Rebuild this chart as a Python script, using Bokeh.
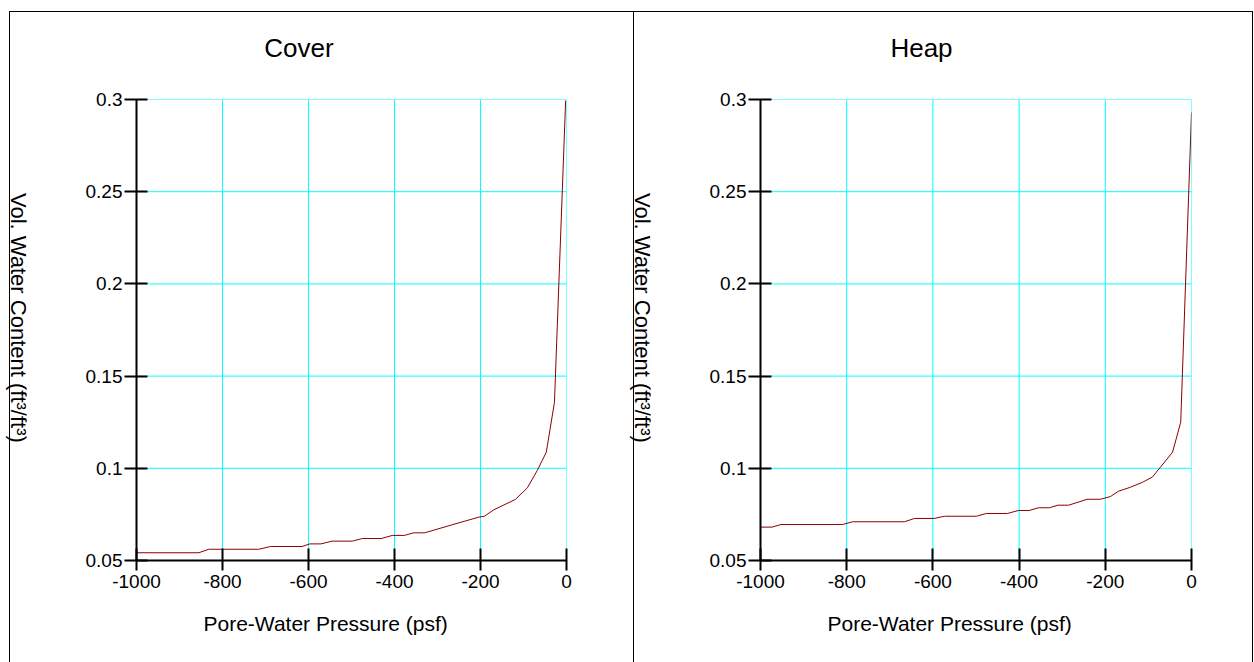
from bokeh.plotting import figure
from bokeh.models import Range1d, FixedTicker, Title, Spacer, Div
from bokeh.layouts import row, column
from bokeh.embed import file_html
from bokeh.resources import INLINE

# ---------------- data ----------------
panel_titles = ["Cover", "Heap"]
x_label = "Pore-Water Pressure (psf)"
y_label = "Vol. Water Content (ft\u00b3/ft\u00b3)"

x_ticks = [-1000, -800, -600, -400, -200, 0]
x_tick_labels = ["-1000", "-800", "-600", "-400", "-200", "0"]
y_ticks = [0.05, 0.1, 0.15, 0.2, 0.25, 0.3]
y_tick_labels = ["0.05", "0.1", "0.15", "0.2", "0.25", "0.3"]

cover_pwp = [-1000, -855, -832, -716, -688, -615, -597, -571, -545, -498, -475,
             -431, -405, -377, -355, -330, -267, -204, -191, -169, -119, -91,
             -68, -47, -28, -2]
cover_vwc = [0.0542, 0.0542, 0.0561, 0.0561, 0.0576, 0.0576, 0.0590, 0.0590,
             0.0605, 0.0605, 0.0619, 0.0619, 0.0636, 0.0636, 0.0650, 0.0650,
             0.0693, 0.0735, 0.0740, 0.0775, 0.0831, 0.0894, 0.0988, 0.1087,
             0.1358, 0.2994]

heap_pwp = [-1000, -973, -953, -810, -786, -666, -643, -597, -573, -499, -476,
            -427, -402, -377, -355, -330, -310, -285, -242, -211, -188, -169,
            -142, -114, -91, -44, -25, 0]
heap_vwc = [0.0681, 0.0681, 0.0695, 0.0695, 0.0710, 0.0710, 0.0728, 0.0728,
            0.0740, 0.0740, 0.0755, 0.0755, 0.0771, 0.0771, 0.0786, 0.0786,
            0.0800, 0.0800, 0.0832, 0.0832, 0.0847, 0.0876, 0.0897, 0.0924,
            0.0952, 0.1087, 0.1250, 0.2930]

FONT = "Liberation Sans"
LINE_COLOR = "#8B0000"
GRID_COLOR = "#00FFFF"
BORDER = "1px solid black"
PLOT_H = 591


def make_plot(xs, ys, width, min_left, min_right, styles, xlabel_offset):
    p = figure(width=width, height=PLOT_H, output_backend="svg",
               toolbar_location=None,
               x_range=Range1d(x_ticks[0], x_ticks[-1]),
               y_range=Range1d(y_ticks[0], y_ticks[-1]),
               min_border_left=min_left, min_border_right=min_right,
               min_border_top=28, min_border_bottom=102,
               styles=styles)
    p.outline_line_color = None
    p.background_fill_color = "white"
    p.border_fill_color = "white"
    p.xgrid.visible = False
    p.ygrid.visible = False

    xt = FixedTicker(ticks=x_ticks)
    yt = FixedTicker(ticks=y_ticks)
    p.xaxis.ticker = xt
    p.yaxis.ticker = yt
    p.xaxis.major_label_overrides = {t: s for t, s in zip(x_ticks, x_tick_labels)}
    p.yaxis.major_label_overrides = {t: s for t, s in zip(y_ticks, y_tick_labels)}

    # cyan grid drawn from the tick values
    nx, ny = len(x_ticks), len(y_ticks)
    p.segment(x0=x_ticks, y0=[y_ticks[0]] * nx, x1=x_ticks, y1=[y_ticks[-1]] * nx,
              line_color=GRID_COLOR, line_width=1)
    p.segment(x0=[x_ticks[0]] * ny, y0=y_ticks, x1=[x_ticks[-1]] * ny, y1=y_ticks,
              line_color=GRID_COLOR, line_width=1)

    for ax in (p.xaxis, p.yaxis):
        ax.axis_line_width = 2
        ax.axis_line_color = "black"
        ax.major_tick_line_width = 2
        ax.major_tick_line_color = "black"
        ax.minor_tick_line_color = None
        ax.major_label_text_font = FONT
        ax.major_label_text_font_size = "19px"
        ax.major_label_text_color = "black"

    p.xaxis.major_tick_in = 12
    p.xaxis.major_tick_out = 10
    p.xaxis.major_label_standoff = 4
    p.yaxis.major_tick_in = 11
    p.yaxis.major_tick_out = 12
    p.yaxis.major_label_standoff = 2

    p.line(xs, ys, line_color=LINE_COLOR, line_width=1)

    p.add_layout(Title(text=x_label, align="left", offset=xlabel_offset,
                       vertical_align="top",
                       text_font=FONT, text_font_size="21px",
                       text_font_style="normal", text_color="black",
                       standoff=43), "below")
    return p


def title_div(text, width, styles):
    st = {"box-sizing": "border-box", "font-family": FONT, "font-size": "26px",
          "line-height": "30px", "padding-top": "21px", "text-align": "center",
          "white-space": "nowrap", "color": "black", "background": "white"}
    st.update(styles)
    return Div(text=text, width=width, height=60, margin=0, styles=st)


def ylabel_div():
    return Div(text=y_label, width=17, height=PLOT_H, margin=0,
               styles={"border-left": BORDER, "box-sizing": "border-box",
                       "writing-mode": "vertical-rl",
                       "font-family": FONT, "font-size": "22px",
                       "line-height": "16px", "padding-top": "122px",
                       "white-space": "nowrap", "color": "black",
                       "overflow": "visible", "background": "white"})


p1 = make_plot(cover_pwp, cover_vwc, 607, 110, 67, {}, 67)
p2 = make_plot(heap_pwp, heap_vwc, 603, 110, 62, {"border-right": BORDER}, 67)

panel1 = column(
    title_div(panel_titles[0], 624,
              {"border-top": BORDER, "border-left": BORDER, "padding-right": "45px"}),
    row(ylabel_div(), p1))
panel2 = column(
    title_div(panel_titles[1], 620,
              {"border-top": BORDER, "border-left": BORDER, "border-right": BORDER,
               "padding-right": "43px"}),
    row(ylabel_div(), p2))

layout = column(Spacer(width=1254, height=11),
                row(Spacer(width=9, height=651), panel1, panel2,
                    Spacer(width=1, height=651)))
open("out.html", "w").write(file_html(layout, INLINE))
